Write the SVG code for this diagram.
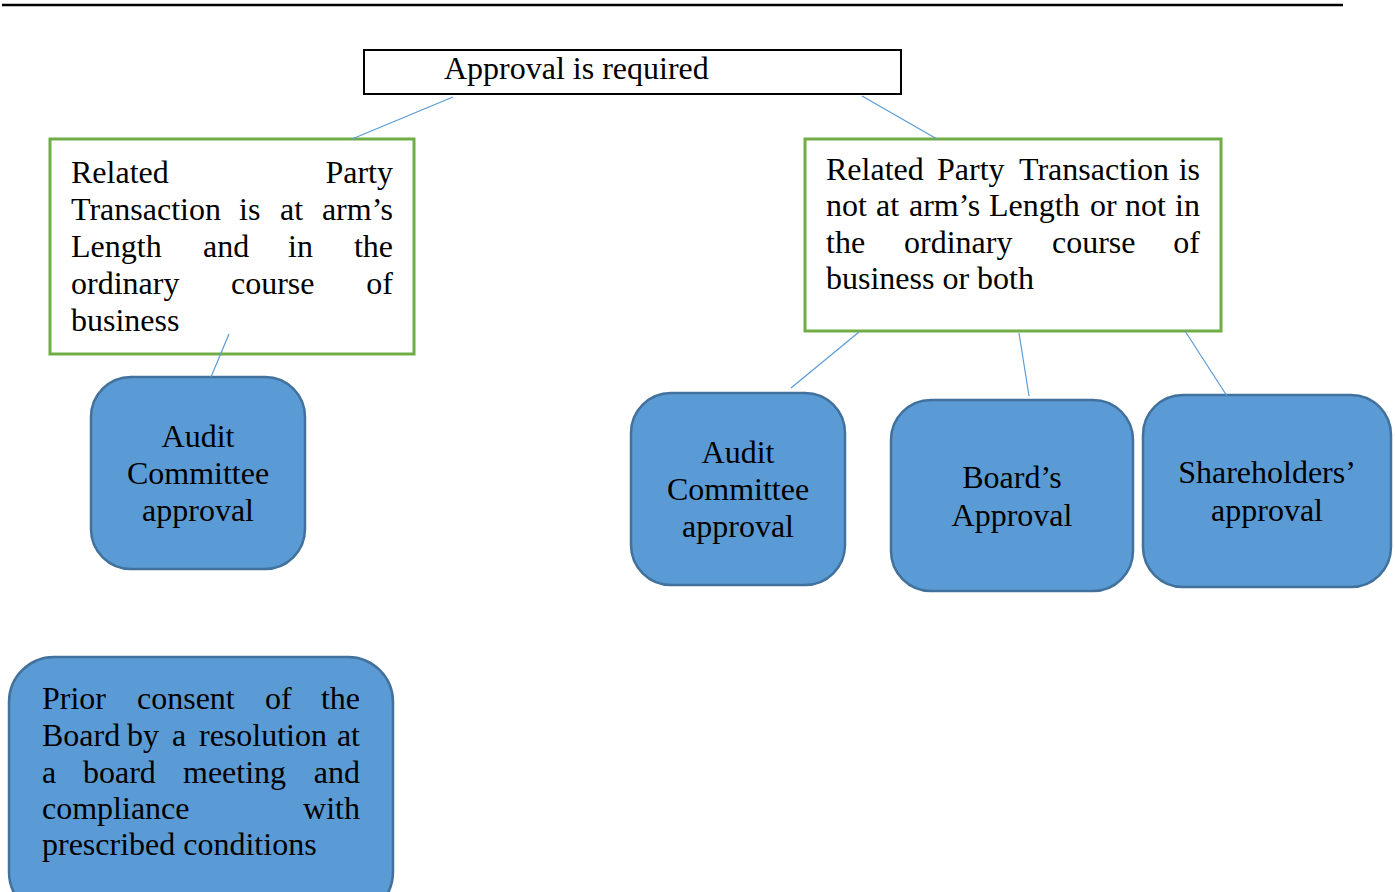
<svg xmlns="http://www.w3.org/2000/svg" width="1395" height="892" viewBox="0 0 1395 892">
<style>
text{font-family:"Liberation Serif","Times New Roman",serif;font-size:32px;fill:#000}
.c{text-anchor:middle}
.e{text-anchor:end}
.green{fill:#fff;stroke:#70AD47;stroke-width:3}
.blue{fill:#5B9BD5;stroke:#41719C;stroke-width:2.5}
.conn line{stroke:#5B9BD5;stroke-width:1.2}
</style>
<rect width="1395" height="892" fill="#fff"/>
<line x1="2" y1="5" x2="1343" y2="5" stroke="#000" stroke-width="2.5"/>

<g id="root">
<rect x="364" y="50" width="537" height="44" fill="#fff" stroke="#000" stroke-width="2"/>
<text x="444" y="79">Approval is required</text>
</g>

<g id="left-condition">
<rect class="green" x="50" y="139" width="364" height="215"/>
<text x="71" y="183">Related</text><text class="e" x="393" y="183">Party</text>
<text x="71" y="220">Transaction</text><text x="239" y="220">is</text><text x="280" y="220">at</text><text class="e" x="393" y="220">arm’s</text>
<text x="71" y="257">Length</text><text x="203" y="257">and</text><text x="288" y="257">in</text><text class="e" x="393" y="257">the</text>
<text x="71" y="294">ordinary</text><text x="231" y="294">course</text><text class="e" x="393" y="294">of</text>
<text x="71" y="331">business</text>
</g>

<g id="right-condition">
<rect class="green" x="805" y="139" width="416" height="192"/>
<text x="826" y="180">Related</text><text x="937" y="180">Party</text><text x="1019" y="180">Transaction</text><text class="e" x="1200" y="180">is</text>
<text x="826" y="216">not</text><text x="876" y="216">at</text><text x="909" y="216">arm’s</text><text x="989" y="216">Length</text><text x="1090" y="216">or</text><text x="1125" y="216">not</text><text class="e" x="1200" y="216">in</text>
<text x="826" y="253">the</text><text x="904" y="253">ordinary</text><text x="1052" y="253">course</text><text class="e" x="1200" y="253">of</text>
<text x="826" y="289">business or both</text>
</g>

<g id="left-audit">
<rect class="blue" x="91" y="377" width="214" height="192" rx="40"/>
<text class="c" x="198" y="447">Audit</text>
<text class="c" x="198" y="484">Committee</text>
<text class="c" x="198" y="521">approval</text>
</g>

<g id="right-audit">
<rect class="blue" x="631" y="393" width="214" height="192" rx="40"/>
<text class="c" x="738" y="463">Audit</text>
<text class="c" x="738" y="500">Committee</text>
<text class="c" x="738" y="537">approval</text>
</g>

<g id="board">
<rect class="blue" x="891" y="400" width="242" height="191" rx="40"/>
<text class="c" x="1012" y="488">Board’s</text>
<text class="c" x="1012" y="526">Approval</text>
</g>

<g id="shareholders">
<rect class="blue" x="1143" y="395" width="248" height="192" rx="40"/>
<text class="c" x="1267" y="483">Shareholders’</text>
<text class="c" x="1267" y="521">approval</text>
</g>

<g id="prior-consent">
<rect class="blue" x="9" y="657" width="384" height="260" rx="45"/>
<text x="42" y="709">Prior</text><text x="137" y="709">consent</text><text x="265" y="709">of</text><text class="e" x="360" y="709">the</text>
<text x="42" y="746">Board</text><text x="127" y="746">by</text><text x="172" y="746">a</text><text x="199" y="746">resolution</text><text class="e" x="360" y="746">at</text>
<text x="42" y="783">a</text><text x="83" y="783">board</text><text x="183" y="783">meeting</text><text class="e" x="360" y="783">and</text>
<text x="42" y="819">compliance</text><text class="e" x="360" y="819">with</text>
<text x="42" y="855">prescribed conditions</text>
</g>

<g class="conn" id="connectors">
<line x1="453" y1="97" x2="352" y2="139"/>
<line x1="862" y1="96" x2="937" y2="139"/>
<line x1="229" y1="334" x2="211" y2="377"/>
<line x1="859" y1="332" x2="791" y2="388"/>
<line x1="1019" y1="333" x2="1029" y2="396"/>
<line x1="1185" y1="331" x2="1227" y2="396"/>
</g>
</svg>
